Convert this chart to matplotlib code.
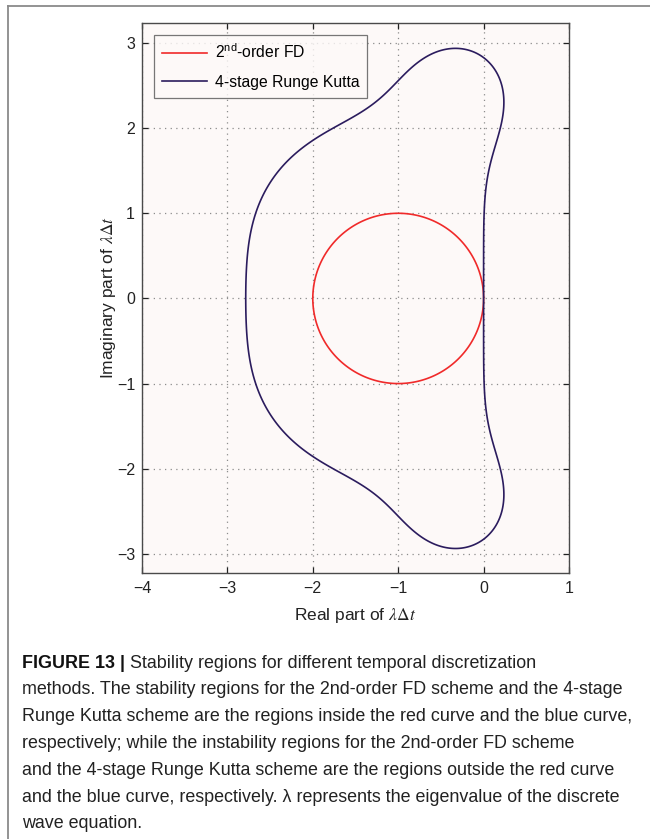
import numpy as np
import matplotlib
matplotlib.use("Agg")
import matplotlib.pyplot as plt
from matplotlib.lines import Line2D

# ---- data ----
# amplification polynomials R(z) (coefficients of z^0, z^1, ...); curves are |R(z)| = 1
series_names = ["2$^{\\mathrm{nd}}$-order FD", "4-stage Runge Kutta"]
fd_coeffs = [1.0, 1.0]
rk4_coeffs = [1.0, 1.0, 1.0 / 2, 1.0 / 6, 1.0 / 24]
series_colors = ["#f02a2a", "#2b1c5e"]
x_ticks = [-4, -3, -2, -1, 0, 1]
y_ticks = [-3, -2, -1, 0, 1, 2, 3]
x_label = "Real part of $\\lambda\\Delta t$"
y_label = "Imaginary part of $\\lambda\\Delta t$"
caption_bold = "FIGURE 13"
caption_lines = [
    "Stability regions for different temporal discretization",
    "methods. The stability regions for the 2nd-order FD scheme and the 4-stage",
    "Runge Kutta scheme are the regions inside the red curve and the blue curve,",
    "respectively; while the instability regions for the 2nd-order FD scheme",
    "and the 4-stage Runge Kutta scheme are the regions outside the red curve",
    "and the blue curve, respectively. \u03bb represents the eigenvalue of the discrete",
    "wave equation.",
]

plt.rcParams["font.family"] = ["Liberation Sans", "DejaVu Sans"]
plt.rcParams["mathtext.fontset"] = "custom"
plt.rcParams["mathtext.rm"] = "Liberation Sans"
plt.rcParams["mathtext.it"] = "Liberation Sans:italic"

W, H = 650, 839
fig = plt.figure(figsize=(W / 100, H / 100), dpi=100)
fig.patch.set_facecolor("white")

# outer frame lines
fig.add_artist(Line2D([8 / W, 1], [1 - 6 / H, 1 - 6 / H], transform=fig.transFigure,
                      color="#8a8a8a", lw=1.3))
fig.add_artist(Line2D([8 / W, 8 / W], [0, 1 - 6 / H], transform=fig.transFigure,
                      color="#8a8a8a", lw=1.3))

ax = fig.add_axes([142 / W, 266 / H, 427 / W, 550 / H])
ax.set_facecolor("#fdf9f8")

xs = np.linspace(-4.2, 1.2, 1400)
ys = np.linspace(-3.4, 3.4, 1400)
X, Y = np.meshgrid(xs, ys)
Z = X + 1j * Y
for coeffs, col in zip([fd_coeffs, rk4_coeffs], series_colors):
    R = np.polyval(coeffs[::-1], Z)
    ax.contour(X, Y, np.abs(R), levels=[1.0], colors=[col], linewidths=1.2)

ax.set_xlim(-4, 1)
ax.set_ylim(-3.225, 3.235)
ax.set_xticks(x_ticks)
ax.set_yticks(y_ticks)
ax.set_xticklabels([str(t).replace("-", "\u2212") for t in x_ticks])
ax.set_yticklabels([str(t).replace("-", "\u2212") for t in y_ticks])
ax.tick_params(direction="in", length=4, width=0.9, top=True, right=True,
               labelsize=11.5, colors="#222222", pad=5)
ax.tick_params(axis="x", pad=6)
for s in ax.spines.values():
    s.set_color("#4a4a4a")
    s.set_linewidth(1.0)
ax.grid(True, color="#8c8c8c", linestyle=(0, (1, 3.5)), linewidth=0.9)
ax.set_axisbelow(True)

ax.set_xlabel(x_label, fontsize=12.5, labelpad=7, math_fontfamily="stix", color="#222222")
ax.set_ylabel(y_label, fontsize=12.5, labelpad=-1, math_fontfamily="stix", color="#222222")

handles = [Line2D([], [], color=c, lw=1.2) for c in series_colors]
leg = ax.legend(handles, series_names, loc="upper left", fontsize=11.3,
                frameon=True, fancybox=False, edgecolor="#555555",
                handlelength=2.9, handletextpad=0.5, borderpad=0.5,
                labelspacing=0.85, bbox_to_anchor=(0.0, 1.0),
                borderaxespad=0.75)
leg.get_frame().set_linewidth(0.9)
leg.get_frame().set_facecolor("#fdf9f8")

# caption
fs = 12.9
y0 = 1 - 663 / H
dy = 26.8 / H
t = fig.text(22 / W, y0, caption_bold + " ", fontsize=fs,
             fontweight="bold", va="center", ha="left", color="#111111")
bar = ax.annotate("| ", xy=(1, 0.5), xycoords=t, fontsize=fs, va="center", ha="left",
                  color="#111111", fontweight="bold", annotation_clip=False)
ax.annotate(caption_lines[0], xy=(1, 0.5), xycoords=bar, fontsize=fs, va="center",
            ha="left", color="#222222", annotation_clip=False)
for i, line in enumerate(caption_lines[1:], start=1):
    fig.text(22 / W, y0 - i * dy, line, fontsize=fs, va="center", ha="left",
             color="#222222")

fig.savefig("out.png", dpi=100, facecolor="white")
